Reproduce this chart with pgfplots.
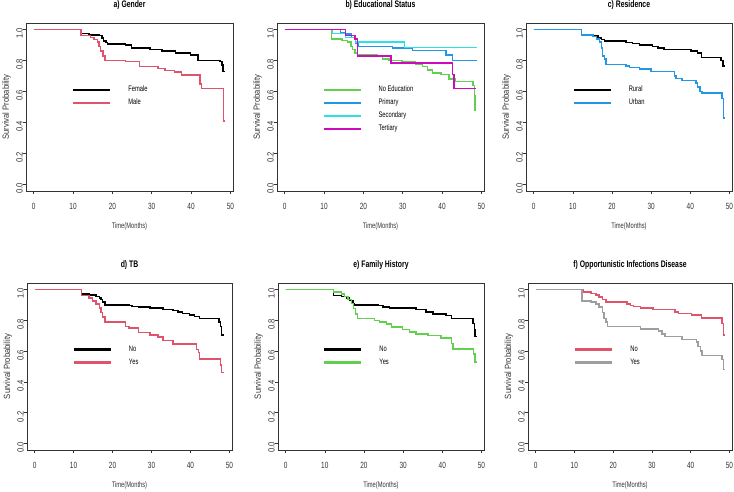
\documentclass[border=0pt]{standalone}
\usepackage{pgfplots}
\pgfplotsset{compat=1.18}
\usepackage{fontspec}
\setmainfont{Liberation Sans}[FakeStretch=0.72]
\newfontfamily\rotfont{Liberation Sans}[FakeStretch=0.85]

\definecolor{rred}{HTML}{DF536B}
\definecolor{rgreen}{HTML}{61D04F}
\definecolor{rblue}{HTML}{2297E6}
\definecolor{rcyan}{HTML}{28E2E5}
\definecolor{rmag}{HTML}{CD0BBC}
\definecolor{rgray}{HTML}{9E9E9E}

\pgfplotsset{
  km/.style={
    scale only axis,
    anchor=south west,
    xmin=-1.95, xmax=50.65,
    ymin=-0.042, ymax=1.042,
    xtick={0,10,20,30,40,50},
    xticklabels={0,10,20,30,40,50},
    ytick={0,0.2,0.4,0.6,0.8,1},
    yticklabels={0.0,0.2,0.4,0.6,0.8,1.0},
    xtick pos=bottom, ytick pos=left,
    tick align=outside,
    major tick length=3pt,
    tick style={black!80, line width=0.6pt},
    axis line style={black!80, line width=0.7pt},
    xticklabel style={anchor=north, inner sep=0pt, yshift=-9pt,
      font=\fontsize{9}{9}\selectfont, text=black!80},
    yticklabel style={rotate=90, anchor=south, inner sep=0pt, xshift=-4pt,
      font=\rotfont\fontsize{9}{9}\selectfont, text=black!80},
    xlabel={Time(Months)},
    ylabel={Survival Probability},
    xlabel style={at={(axis description cs:0.5,-0.213)}, anchor=center,
      font=\fontsize{8}{8}\selectfont, text=black!80},
    ylabel style={at={(axis description cs:-0.094,0.5)}, anchor=center,
      font=\rotfont\fontsize{9}{9}\selectfont, text=black!80},
    every axis title shift=0pt,
    title style={at={(axis description cs:0.5,1.108)}, anchor=center,
      font=\bfseries\fontsize{9.5}{9.5}\selectfont},
    every axis plot/.append style={const plot, line width=1.5pt, no markers},
    legend cell align=left,
    legend image code/.code={
      \draw[#1, line width=2.4pt] (0pt,0pt) -- (37pt,0pt);
      \path[draw=none] (0pt,0pt) -- (55pt,0pt);},
    legend style={draw=none, fill=none, inner sep=0pt, outer sep=0pt,
      row sep=0pt,
      nodes={inner sep=0pt, minimum height=13pt, font=\fontsize{8}{8}\selectfont}},
  }
}

\begin{document}
\begin{tikzpicture}
\path[use as bounding box] (0pt,0pt) rectangle (734pt,491pt);

% a) Gender
\begin{axis}[km, at={(26pt,300pt)}, width=207pt, height=168pt,
  title={a) Gender},
  legend style={at={(axis cs:9.8,0.653)}, anchor=north west}]
\addplot[black] coordinates {
  (0,1) (12.0,0.975) (14.0,0.965) (16.6,0.96) (17.3,0.945) (17.8,0.925)
  (18.4,0.915) (18.8,0.905) (23.3,0.9) (24.8,0.88) (29.6,0.87) (32.6,0.86)
  (36.0,0.848) (39.8,0.835) (41.8,0.80) (47.3,0.795) (47.8,0.77)
  (48.1,0.73) (48.6,0.73)
};
\addlegendentry{Female}
\addplot[rred] coordinates {
  (0,1) (12.0,0.96) (14.5,0.95) (15.3,0.935) (16.2,0.92) (16.6,0.89)
  (17.0,0.86) (17.6,0.83) (18.1,0.80) (23.3,0.795) (26.9,0.76) (31.6,0.75)
  (33.4,0.735) (35.8,0.725) (37.6,0.705) (42.3,0.65) (42.6,0.62)
  (48.2,0.41) (48.5,0.41)
};
\addlegendentry{Male}
\end{axis}

% b) Educational Status
\begin{axis}[km, at={(277pt,300pt)}, width=207pt, height=168pt,
  title={b) Educational Status},
  legend style={at={(axis cs:9.6,0.653)}, anchor=north west}]
\addplot[rgreen] coordinates {
  (0,1) (11.9,0.94) (14.6,0.93) (15.9,0.92) (16.8,0.89) (17.2,0.87)
  (17.9,0.85) (18.5,0.84) (23.6,0.83) (24.8,0.81) (26.5,0.80) (29.8,0.79)
  (33.3,0.775) (35.0,0.76) (36.3,0.74) (37.6,0.72) (39.7,0.71) (41.8,0.68)
  (43.4,0.665) (47.8,0.64) (48.2,0.57) (48.4,0.48) (48.7,0.48)
};
\addlegendentry{No Education}
\addplot[rblue] coordinates {
  (0,1) (14.2,0.98) (15.5,0.97) (17.0,0.95) (18.0,0.91) (18.6,0.89)
  (27.4,0.88) (32.5,0.865) (41.0,0.835) (42.7,0.80) (48.9,0.80)
};
\addlegendentry{Primary}
\addplot[rcyan] coordinates {
  (0,1) (12.2,0.975) (15.5,0.95) (18.0,0.92) (30.4,0.885) (48.9,0.885)
};
\addlegendentry{Secondary}
\addplot[rmag] coordinates {
  (0,1) (15.5,0.96) (17.9,0.94) (18.5,0.83) (27.0,0.785) (42.7,0.71)
  (43.0,0.62) (48.6,0.62)
};
\addlegendentry{Tertiary}
\end{axis}

% c) Residence
\begin{axis}[km, at={(526pt,300pt)}, width=206pt, height=168pt,
  title={c) Residence},
  legend style={at={(axis cs:9.95,0.653)}, anchor=north west}]
\addplot[black] coordinates {
  (0,1) (12.2,0.965) (14.3,0.96) (16.4,0.945) (17.3,0.935) (18.1,0.925)
  (23.6,0.915) (25.3,0.91) (27.0,0.90) (30.4,0.89) (31.7,0.88) (33.3,0.87)
  (40.2,0.86) (41.9,0.85) (42.8,0.82) (47.9,0.80) (48.3,0.765) (48.9,0.765)
};
\addlegendentry{Rural}
\addplot[rblue] coordinates {
  (0,1) (12.2,0.965) (15.1,0.955) (16.0,0.94) (16.8,0.92) (17.3,0.88)
  (17.6,0.83) (18.1,0.81) (18.5,0.775) (23.6,0.765) (24.5,0.755)
  (27.0,0.745) (30.0,0.73) (36.0,0.70) (36.4,0.685) (37.9,0.67)
  (41.5,0.655) (41.9,0.63) (42.5,0.60) (43.0,0.59) (48.1,0.555)
  (48.5,0.43) (48.8,0.43)
};
\addlegendentry{Urban}
\end{axis}

% d) TB
\begin{axis}[km, at={(27pt,41pt)}, width=205pt, height=167pt,
  title={d) TB},
  legend style={at={(axis cs:9.8,0.653)}, anchor=north west}]
\addplot[black] coordinates {
  (0,1) (12.0,0.97) (14.1,0.965) (15.7,0.955) (16.6,0.945) (17.0,0.935)
  (17.4,0.92) (18.1,0.90) (24.2,0.895) (25.0,0.89) (26.7,0.885)
  (29.6,0.88) (33.0,0.87) (35.5,0.865) (36.8,0.855) (38.0,0.845)
  (39.7,0.835) (41.0,0.825) (42.3,0.81) (47.3,0.79) (47.7,0.76)
  (48.0,0.705) (48.5,0.705)
};
\addlegendentry{No}
\addplot[rred] coordinates {
  (0,1) (12.0,0.96) (14.0,0.945) (14.9,0.925) (15.7,0.905) (16.6,0.88)
  (17.0,0.85) (17.4,0.82) (18.1,0.79) (23.3,0.76) (24.2,0.75) (26.7,0.72)
  (29.6,0.705) (31.7,0.69) (33.0,0.67) (35.5,0.645) (41.6,0.61)
  (42.0,0.59) (42.3,0.55) (47.7,0.51) (48.0,0.46) (48.5,0.46)
};
\addlegendentry{Yes}
\end{axis}

% e) Family History
\begin{axis}[km, at={(278pt,41pt)}, width=206pt, height=167pt,
  title={e) Family History},
  legend style={at={(axis cs:9.6,0.653)}, anchor=north west}]
\addplot[black] coordinates {
  (0,1) (12.2,0.96) (14.2,0.955) (15.5,0.945) (16.3,0.93) (17.2,0.91)
  (17.6,0.90) (23.6,0.895) (24.8,0.885) (26.5,0.88) (33.3,0.87)
  (35.9,0.855) (37.6,0.84) (41.0,0.83) (42.3,0.81) (47.8,0.78)
  (48.2,0.74) (48.4,0.695) (48.8,0.695)
};
\addlegendentry{No}
\addplot[rgreen] coordinates {
  (0,1) (12.2,0.985) (14.2,0.97) (15.0,0.955) (15.9,0.935) (16.8,0.91)
  (17.3,0.875) (17.9,0.84) (18.3,0.81) (22.7,0.80) (24.0,0.79)
  (25.7,0.775) (27.0,0.755) (29.9,0.74) (31.6,0.725) (33.3,0.71)
  (36.3,0.70) (39.7,0.685) (42.3,0.65) (42.7,0.615) (48.0,0.58)
  (48.3,0.53) (48.8,0.53)
};
\addlegendentry{Yes}
\end{axis}

% f) Opportunistic Infections Disease
\begin{axis}[km, at={(528pt,41pt)}, width=204pt, height=167pt,
  title={f) Opportunistic Infections Disease},
  legend style={at={(axis cs:9.95,0.653)}, anchor=north west}]
\addplot[rred] coordinates {
  (0,1) (12.2,0.985) (14.3,0.975) (15.6,0.965) (16.4,0.95) (17.3,0.935)
  (18.1,0.92) (23.6,0.905) (24.5,0.895) (25.3,0.89) (27.0,0.88)
  (30.3,0.87) (36.0,0.855) (36.8,0.845) (40.2,0.835) (42.8,0.815)
  (48.1,0.78) (48.4,0.705) (48.8,0.705)
};
\addlegendentry{No}
\addplot[rgray] coordinates {
  (0,1) (12.0,0.925) (14.3,0.92) (15.6,0.905) (16.4,0.885) (17.3,0.85)
  (17.7,0.81) (18.1,0.79) (18.5,0.76) (27.0,0.745) (31.7,0.73)
  (32.6,0.71) (33.4,0.695) (37.7,0.675) (41.5,0.66) (41.9,0.63)
  (42.5,0.60) (42.9,0.57) (48.1,0.545) (48.4,0.48) (48.8,0.48)
};
\addlegendentry{Yes}
\end{axis}
\end{tikzpicture}
\end{document}
